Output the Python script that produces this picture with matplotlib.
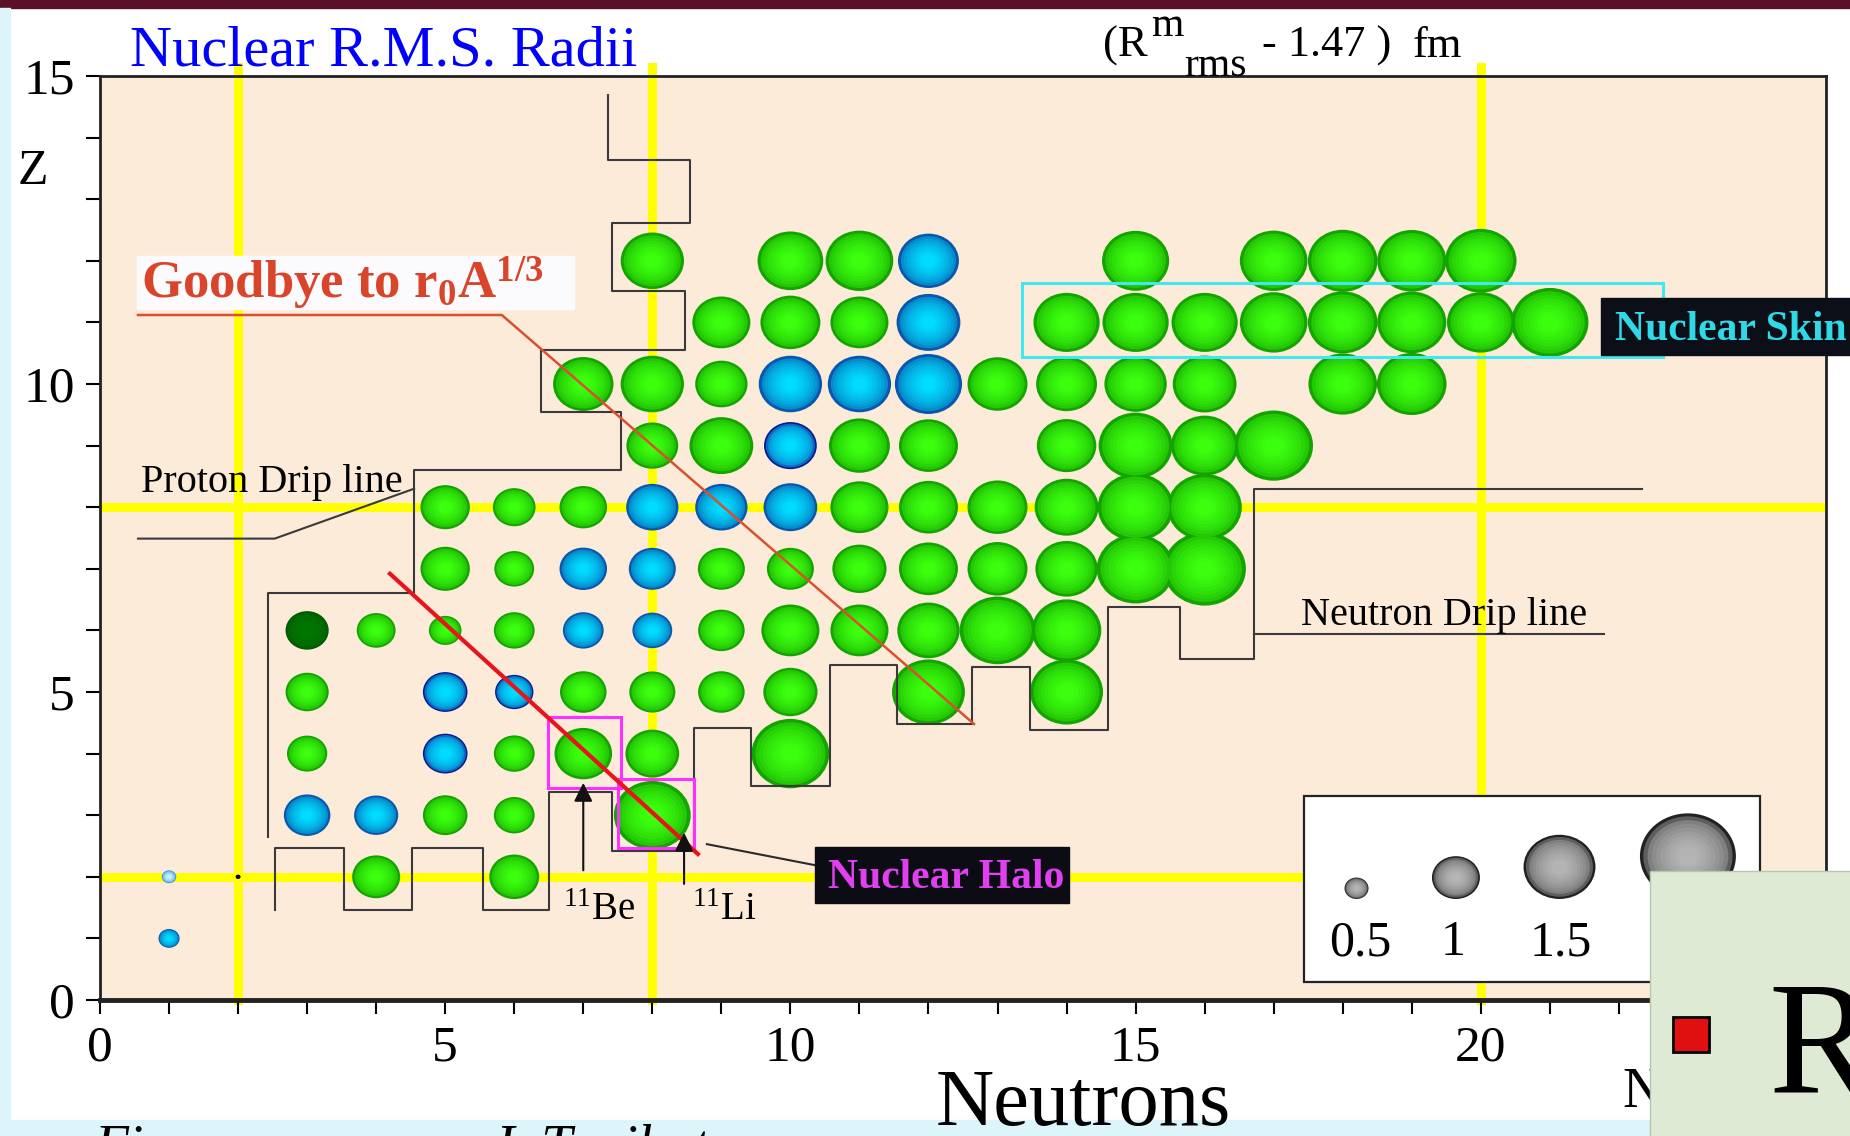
import numpy as np
import matplotlib
matplotlib.use("Agg")
import matplotlib.pyplot as plt
from matplotlib.collections import EllipseCollection
from matplotlib.patches import Rectangle
from matplotlib.colors import to_rgb

plt.rcParams['font.family'] = ['Liberation Serif', 'DejaVu Serif']
plt.rcParams['mathtext.fontset'] = 'custom'
plt.rcParams['mathtext.rm'] = 'Liberation Serif'
plt.rcParams['mathtext.it'] = 'Liberation Serif:italic'
plt.rcParams['mathtext.bf'] = 'Liberation Serif:bold'

# ---- data -------------------------------------------------------------
# one entry per proton number Z: neutron numbers, (R_rms - 1.47) fm, colour class
# colour class: g green, b blue, n blue with navy rim, d dark green, l light blue, k dot
row_Z = [1, 2, 3, 4, 5, 6, 7, 8, 9, 10, 11, 12]
row_N = [
    [1],
    [1, 2, 4, 6],
    [3, 4, 5, 6, 8],
    [3, 5, 6, 7, 8, 10],
    [3, 5, 6, 7, 8, 9, 10, 12, 14],
    [3, 4, 5, 6, 7, 8, 9, 10, 11, 12, 13, 14],
    [5, 6, 7, 8, 9, 10, 11, 12, 13, 14, 15, 16],
    [5, 6, 7, 8, 9, 10, 11, 12, 13, 14, 15, 16],
    [8, 9, 10, 11, 12, 14, 15, 16, 17],
    [7, 8, 9, 10, 11, 12, 13, 14, 15, 16, 18, 19],
    [9, 10, 11, 12, 14, 15, 16, 17, 18, 19, 20, 21],
    [8, 10, 11, 12, 15, 17, 18, 19, 20],
]
row_R = [
    [0.44],
    [0.30, 0.10, 1.00, 1.04],
    [0.97, 0.92, 0.93, 0.85, 1.60],
    [0.84, 0.93, 0.85, 1.20, 1.12, 1.62],
    [0.90, 0.93, 0.80, 0.97, 0.96, 0.97, 1.13, 1.52, 1.52],
    [0.90, 0.81, 0.68, 0.85, 0.85, 0.83, 0.97, 1.21, 1.21, 1.30, 1.58, 1.45],
    [1.03, 0.83, 0.99, 0.98, 0.98, 0.98, 1.13, 1.23, 1.25, 1.30, 1.62, 1.72],
    [1.03, 0.89, 0.99, 1.09, 1.09, 1.12, 1.21, 1.23, 1.25, 1.33, 1.58, 1.55],
    [1.08, 1.33, 1.10, 1.27, 1.23, 1.24, 1.54, 1.40, 1.64],
    [1.26, 1.32, 1.09, 1.32, 1.32, 1.40, 1.25, 1.27, 1.30, 1.33, 1.43, 1.45],
    [1.21, 1.25, 1.21, 1.33, 1.38, 1.38, 1.38, 1.41, 1.45, 1.44, 1.41, 1.61],
    [1.32, 1.37, 1.41, 1.27, 1.40, 1.41, 1.45, 1.44, 1.49],
]
row_kind = ["b", "lkgg", "bbggg", "gngggg", "gnngggggg", "dgggbbgggggg",
            "ggbbgggggggg", "gggbbbgggggg", "ggngggggg", "gggbbbgggggg",
            "gggbgggggggg", "gggbggggg"]

legend_R = [0.5, 1.0, 1.5, 2.0]
legend_N = [18.2, 19.64, 21.14, 23.0]
legend_labels = ["0.5", "1", "1.5"]
legend_label_N = [18.25, 19.6, 21.16]

x_major = [0, 5, 10, 15, 20]
y_major = [0, 5, 10, 15]
grid_N = [2, 8, 20]
grid_Z = [2, 8]

proton_drip_N = [7.36, 7.36, 8.54, 8.54, 7.41, 7.41, 8.48, 8.48, 6.39, 6.39,
                 7.54, 7.54, 4.55, 4.55, 2.43, 2.43]
proton_drip_Z = [14.69, 13.64, 13.64, 12.61, 12.61, 11.51, 11.51, 10.56, 10.56, 9.55,
                 9.55, 8.60, 8.60, 6.60, 6.60, 2.65]
neutron_drip_N = [2.54, 2.54, 3.53, 3.53, 4.52, 4.52, 5.55, 5.55, 6.51, 6.51, 7.41, 7.41,
                  8.60, 8.60, 9.43, 9.43, 10.58, 10.58, 11.54, 11.54, 12.63, 12.63,
                  13.47, 13.47, 14.60, 14.60, 15.65, 15.65, 16.72, 16.72, 22.33]
neutron_drip_Z = [1.46, 2.47, 2.47, 1.46, 1.46, 2.47, 2.47, 1.46, 1.46, 3.37, 3.37, 2.42,
                  2.42, 4.42, 4.42, 3.47, 3.47, 5.44, 5.44, 4.48, 4.48, 5.40,
                  5.40, 4.38, 4.38, 6.38, 6.38, 5.53, 5.53, 8.29, 8.29]

SCALE = 0.695   # drawn diameter per fm, in axis units

palette = {
    'g': (None, '#14a400', '#3cff0e'),
    'b': (None, '#0a58ac', '#00dcff'),
    'n': ('#0a1c8c', '#0b6cc0', '#00dcff'),
    'd': (None, '#005c00', '#007800'),
    'l': (None, '#2a8ee0', '#c8f4ff'),
    'k': (None, '#000000', '#000000'),
}

W, H = 1850, 1136
fig = plt.figure(figsize=(W / 100, H / 100), dpi=100)

# slide background
bg = fig.add_axes([0, 0, 1, 1], zorder=-1)
bg.set_xlim(0, W); bg.set_ylim(H, 0); bg.axis('off')
bg.add_patch(Rectangle((0, 0), W, 8, color='#5a1029'))
bg.add_patch(Rectangle((0, 8), 10, H, color='#dcf5fa'))
bg.add_patch(Rectangle((0, 1120), W, 20, color='#dcf5fa'))

ax = fig.add_axes([100 / W, 1 - 1000 / H, 1726 / W, 924 / H])
ax.set_facecolor('#fdebda')
ax.set_xlim(0, 25)
ax.set_ylim(0, 15)


def balls(x, y, d, edge, centre, rim=None, z=4):
    x, y, d = map(np.atleast_1d, (x, y, d))
    xy = np.column_stack([x, y])
    e, c = np.array(to_rgb(edge)), np.array(to_rgb(centre))
    layers = []
    if rim:
        layers.append((1.0, to_rgb(rim)))
    start = 0.93 if rim else 1.0
    scales = np.linspace(start, 0.22, 9)
    for i, s in enumerate(scales):
        t = (i / (len(scales) - 1)) ** 0.45
        layers.append((s, tuple(e + (c - e) * t)))
    for s, col in layers:
        ax.add_collection(EllipseCollection(d * s, d * s, np.zeros(len(d)), units='xy',
                                            offsets=xy, offset_transform=ax.transData,
                                            facecolors=[col], edgecolors='none', zorder=z))


# yellow guide lines
for gx in grid_N:
    ax.axvline(gx, ymin=0, ymax=1.01, color='#ffff00', lw=6.5, zorder=1, clip_on=False)
for gz in grid_Z:
    ax.axhline(gz, color='#ffff00', lw=6.5, zorder=1)

# nuclei
allN = np.concatenate(row_N)
allZ = np.concatenate([[z] * len(n) for z, n in zip(row_Z, row_N)])
allR = np.concatenate(row_R)
allK = np.array(list("".join(row_kind)))
for k, (rim, edge, centre) in palette.items():
    m = allK == k
    if m.any():
        balls(allN[m], allZ[m], allR[m] * SCALE, edge, centre, rim)

# drip lines
ax.plot(proton_drip_N, proton_drip_Z, color='#3a3a3a', lw=1.5, zorder=6)
ax.plot(neutron_drip_N, neutron_drip_Z, color='#3a3a3a', lw=1.5, zorder=6)
ax.plot([0.55, 2.53, 4.55], [7.49, 7.49, 8.3], color='#3a3a3a', lw=1.5, zorder=6)
ax.plot([16.72, 21.78], [5.94, 5.94], color='#3a3a3a', lw=1.5, zorder=6)
ax.text(0.6, 8.25, 'Proton Drip line', fontsize=29, va='baseline', zorder=7)
ax.text(17.39, 6.09, 'Neutron Drip line', fontsize=29, va='baseline', zorder=7)

# halo boxes and arrows
ax.add_patch(Rectangle((6.49, 3.44), 1.05, 1.15, fill=False, ec='#ff30ff', lw=2.2, zorder=7))
ax.add_patch(Rectangle((7.51, 2.47), 1.10, 1.12, fill=False, ec='#ff30ff', lw=2.2, zorder=7))
ax.plot([4.2, 8.66], [6.92, 2.37], color='#e8141c', lw=3, zorder=8)
for xn, z0, z1 in [(7.0, 2.06, 3.57), (8.46, 1.84, 2.76)]:
    ax.annotate('', xy=(xn, z1), xytext=(xn, z0), zorder=8,
                arrowprops=dict(arrowstyle='-|>', color='#111111', lw=1.5, mutation_scale=28))
ax.text(6.71, 1.3, r'$^{11}$Be', fontsize=28, va='baseline', zorder=7)
ax.text(8.57, 1.3, r'$^{11}$Li', fontsize=28, va='baseline', zorder=7)
ax.plot([8.79, 10.35], [2.53, 2.19], color='#2a2a2a', lw=1.5, zorder=7)
ax.add_patch(Rectangle((10.35, 1.57), 3.68, 0.91, color='#0c0c14', zorder=8))
ax.text(10.55, 1.82, 'Nuclear Halo', fontsize=30, fontweight='bold', color='#e040f0',
        va='baseline', zorder=9)

# nuclear skin box
ax.add_patch(Rectangle((13.36, 10.44), 9.28, 1.2, fill=False, ec='#40e8f0', lw=2.2, zorder=7))

# goodbye label
ax.add_patch(Rectangle((0.53, 11.21), 6.33, 0.87, color='#fbfbfd', zorder=7))
ax.text(0.6, 11.38, r'Goodbye to r$_\mathbf{0}$A$^{\mathbf{1/3}}$', fontsize=38,
        fontweight='bold', color='#d8452b', va='baseline', zorder=8)
ax.plot([0.55, 5.82, 12.66], [11.12, 11.12, 4.48], color='#d9502f', lw=1.8, zorder=8)

# size legend
ax.add_patch(Rectangle((17.44, 0.30), 6.6, 3.01, fc='white', ec='#222222', lw=1.6, zorder=6))
legend_Z = [1.64 + r * SCALE / 2 for r in legend_R]
balls(legend_N, legend_Z, np.array(legend_R) * SCALE, '#5e5e5e', '#b4b4b4', '#222222', z=7)
for xn, lab in zip(legend_label_N, legend_labels):
    ax.text(xn, 0.73, lab, fontsize=36, ha='center', va='baseline', zorder=8)

# axes styling
ax.set_xticks(x_major)
ax.set_xticks(np.arange(0, 26), minor=True)
ax.set_yticks(y_major)
ax.set_yticks(np.arange(0, 16), minor=True)
ax.tick_params(which='both', direction='out', length=10, width=1.5, labelsize=37, pad=8)
for s in ax.spines.values():
    s.set_linewidth(2)
    s.set_color('#222222')
ax.spines['bottom'].set_linewidth(3.5)

# slide overlays, in pixel units
ov = fig.add_axes([0, 0, 1, 1], zorder=5)
ov.set_xlim(0, W); ov.set_ylim(H, 0); ov.axis('off')
ov.text(130, 66, 'Nuclear R.M.S. Radii', color='#0000ff', fontsize=42, va='baseline')
ov.text(1103, 57, '(R', fontsize=32, va='baseline')
ov.text(1151, 36, 'm', fontsize=30, va='baseline')
ov.text(1184, 76, 'rms', fontsize=30, va='baseline')
ov.text(1262, 57, '- 1.47 )', fontsize=32, va='baseline')
ov.text(1413, 57, 'fm', fontsize=32, va='baseline')
ov.text(33, 172, 'Z', fontsize=36, ha='center', va='center')
ov.add_patch(Rectangle((1601, 298), 260, 57, color='#0d0f18', zorder=2))
ov.text(1615, 340, 'Nuclear Skin', fontsize=30, fontweight='bold', color='#2fd9e6',
        va='baseline', zorder=3)
ov.text(936, 1125, 'Neutrons', fontsize=58, va='baseline', zorder=3)
ov.text(1622, 1107, 'N', fontsize=40, va='baseline', zorder=1)
ov.add_patch(Rectangle((1650, 871), 210, 270, fc='#deead4', ec='#b6c6ae', lw=1, zorder=2))
ov.add_patch(Rectangle((1673, 1017), 36, 35, fc='#e01010', ec='black', lw=2, zorder=3))
ov.text(1768, 1091, 'R', fontsize=115, va='baseline', zorder=3)
ov.text(94, 1124, 'Figure', fontsize=40, style='italic', va='top', zorder=1)
ov.text(495, 1124, 'I. Tanihata', fontsize=40, style='italic', va='top', zorder=1)

fig.savefig('out.png', dpi=100)
